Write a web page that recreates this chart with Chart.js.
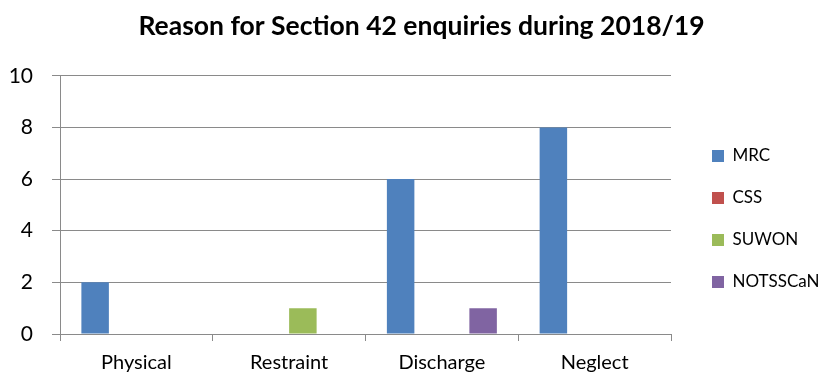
<!DOCTYPE html>
<html><head><meta charset="utf-8">
<script src="https://cdn.jsdelivr.net/npm/chart.js@4/dist/chart.umd.min.js"></script>
<style>html,body{margin:0;padding:0;background:#fff}#wrap{width:821px;height:372px}</style>
</head><body><div id="wrap"><canvas id="c" width="821" height="372"></canvas></div>
<script>
const categories = ["Physical", "Restraint", "Discharge", "Neglect"];
const seriesNames = ["MRC", "CSS", "SUWON", "NOTSSCaN"];
const mrc = [2, 0, 6, 8];
const css = [0, 0, 0, 0];
const suwon = [0, 1, 0, 0];
const notsscan = [0, 0, 1, 0];
const yTicks = [0, 2, 4, 6, 8, 10];
const colors = ["#4F81BD", "#C0504D", "#9BBB59", "#8064A2"];
const values = [mrc, css, suwon, notsscan];
const FONT = "Lato, 'Liberation Sans', sans-serif";

const chart = new Chart(document.getElementById('c'), {
  type: 'bar',
  data: {
    labels: categories,
    datasets: seriesNames.map((n, i) => ({
      label: n, data: values[i], backgroundColor: colors[i],
      borderWidth: 0, categoryPercentage: 0.72, barPercentage: 1.0
    }))
  },
  options: {
    responsive: false, animation: false,
    layout: { padding: { left: 0, right: 0, top: 0, bottom: 0 } },
    plugins: {
      title: { display: true, text: "Reason for Section 42 enquiries during 2018/19",
        color: "#000", font: { family: FONT, size: 26.5, weight: 'bold' }, padding: { top: 11, bottom: 33 } },
      legend: { position: 'right', align: 'center',
        labels: { boxWidth: 12, boxHeight: 12, color: "#000", padding: 25,
          font: { family: FONT, size: 17 } } },
      tooltip: { enabled: false }
    },
    scales: {
      x: {
        grid: { display: true, drawOnChartArea: false, drawTicks: true, tickLength: 7, color: "#8a8a8a", offset: true },
        border: { display: true, color: "#8a8a8a", width: 1 },
        ticks: { color: "#000", font: { family: FONT, size: 20 }, padding: 10 },
        afterFit: (s) => { s.height = 38; }
      },
      y: {
        min: 0, max: 10,
        afterBuildTicks: (s) => { s.ticks = yTicks.map(v => ({ value: v })); },
        grid: { color: "#8a8a8a", tickLength: 8, drawTicks: true },
        border: { display: true, color: "#8a8a8a", width: 1 },
        ticks: { color: "#000", font: { family: FONT, size: 21 }, padding: 19 },
        afterFit: (s) => { s.width = 60; }
      }
    }
  }
});
const lg = chart.legend;
const origFit = lg.fit;
lg.fit = function () { origFit.call(this); this.width = 150; };
const origDraw = lg.draw;
lg.draw = function () { const c = this.ctx; c.save(); c.translate(16, 33); origDraw.call(this); c.restore(); };
const tb = chart.titleBlock;
const origTDraw = tb.draw;
tb.draw = function () { const c = this.ctx; c.save(); c.translate(11, 0); origTDraw.call(this); c.restore(); };
chart.update();
</script></body></html>
